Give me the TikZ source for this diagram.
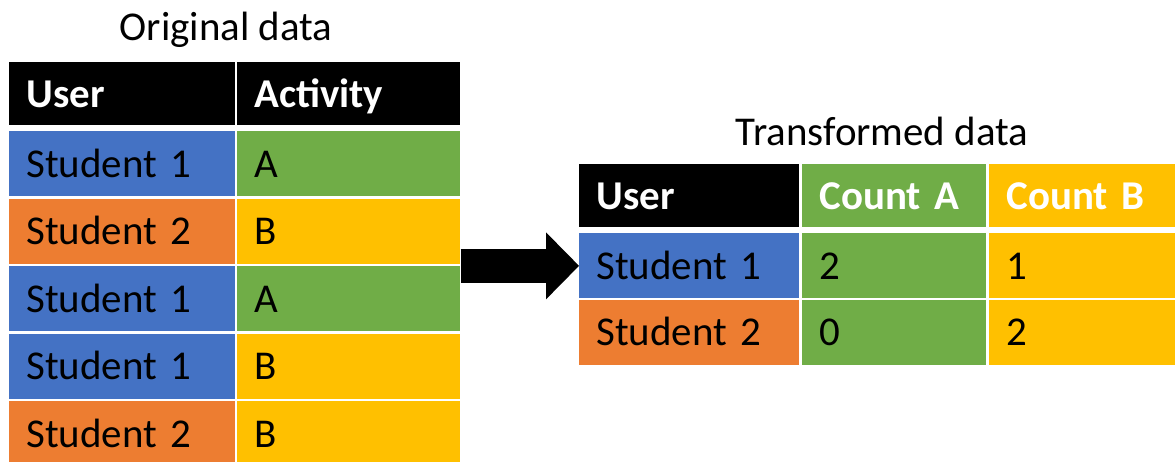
\documentclass[tikz,border=0pt]{standalone}
\usepackage{fontspec}
\setmainfont{Carlito}
\usetikzlibrary{arrows.meta}
\definecolor{ublue}{HTML}{4472C4}
\definecolor{uorange}{HTML}{ED7D31}
\definecolor{agreen}{HTML}{70AD47}
\definecolor{byellow}{HTML}{FFC000}
\tikzset{
  cell/.style={anchor=north west, inner xsep=0.34cm, inner ysep=0pt, minimum height=1.3cm, text height=0.53cm, text depth=0pt, align=left, font=\fontsize{23.3}{28}\selectfont},
  headcell/.style={cell, fill=black, minimum height=1.26cm, text=white, font=\fontsize{23.3}{28}\selectfont\bfseries},
  tabletitle/.style={anchor=base, font=\fontsize{23.3}{28}\selectfont},
  bigarrow/.style={line width=0.68cm, -{Triangle[length=0.66cm, width=1.34cm, line width=0pt]}}
}
\begin{document}
\begin{tikzpicture}[x=0.02cm, y=-0.02cm]
  \clip (0,0) rectangle (1175,462);

  % original data
  \node[tabletitle] (origtitle) at (226,41) {Original data};
  \node[headcell, text width=3.84cm] (uh) at (9,62) {User};
  \node[headcell, text width=3.78cm] (ah) at (237,62) {Activity};
  \foreach \i/\who/\act/\wc/\ac in {1/Student 1/A/ublue/agreen,2/Student 2/B/uorange/byellow,3/Student 1/A/ublue/agreen,4/Student 1/B/ublue/byellow,5/Student 2/B/uorange/byellow} {
    \node[cell, fill=\wc, text width=3.84cm] (u\i) at (9,{131+67.5*(\i-1)}) {\who};
    \node[cell, fill=\ac, text width=3.78cm] (a\i) at (237,{131+67.5*(\i-1)}) {\act};
  }

  % transformed data
  \node[tabletitle] (transtitle) at (882,146) {Transformed data};
  \node[headcell, text width=3.72cm] (th) at (579,164) {User};
  \node[headcell, fill=agreen, text width=3.0cm] (cah) at (802,164) {Count A};
  \node[headcell, fill=byellow, text width=3.04cm] (cbh) at (989,164) {Count B};
  \foreach \i/\who/\na/\nb/\wc in {1/Student 1/2/1/ublue,2/Student 2/0/2/uorange} {
    \node[cell, fill=\wc, text width=3.72cm] (t\i) at (579,{233+66.5*(\i-1)}) {\who};
    \node[cell, fill=agreen, text width=3.0cm] (na\i) at (802,{233+66.5*(\i-1)}) {\na};
    \node[cell, fill=byellow, text width=3.04cm] (nb\i) at (989,{233+66.5*(\i-1)}) {\nb};
  }

  \draw[bigarrow] (t1.west -| a2.east) -- (t1.west);
\end{tikzpicture}
\end{document}
